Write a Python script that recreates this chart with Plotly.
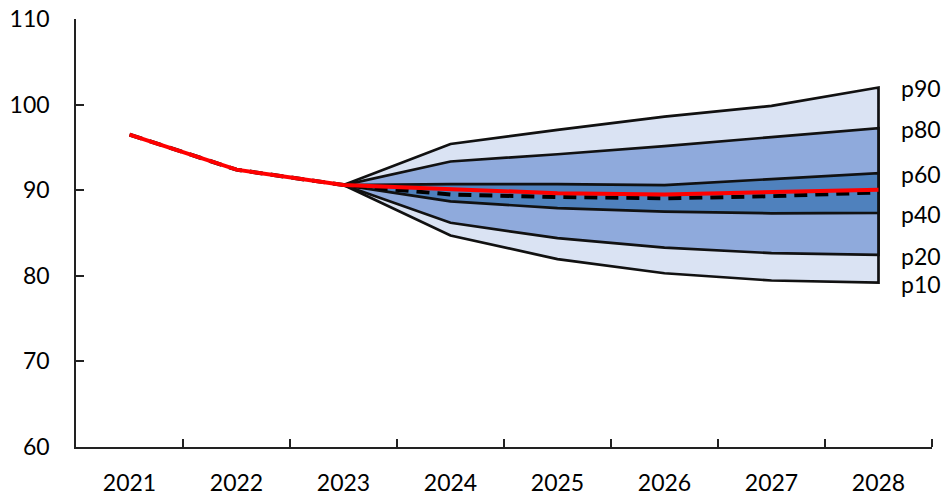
import plotly.graph_objects as go

# Annual path and fan-chart percentiles
years = [2021, 2022, 2023, 2024, 2025, 2026, 2027, 2028]
year_labels = ["2021", "2022", "2023", "2024", "2025", "2026", "2027", "2028"]

# Central paths over the whole period
median_path = [96.5, 92.4, 90.6, 90.1, 89.65, 89.5, 89.75, 90.05]
mean_path = [96.5, 92.4, 90.6, 89.5, 89.2, 89.05, 89.3, 89.75]

# Percentiles start from the last observed year (2023)
fan_years = [2023, 2024, 2025, 2026, 2027, 2028]
p10 = [90.6, 84.7, 81.95, 80.3, 79.45, 79.2]
p20 = [90.6, 86.2, 84.4, 83.3, 82.65, 82.45]
p40 = [90.6, 88.7, 87.9, 87.5, 87.3, 87.35]
p60 = [90.6, 90.7, 90.7, 90.6, 91.3, 92.0]
p80 = [90.6, 93.35, 94.2, 95.15, 96.2, 97.25]
p90 = [90.6, 95.4, 97.05, 98.6, 99.85, 102.0]

band_names = ["p90", "p80", "p60", "p40", "p20", "p10"]
band_values = [p90, p80, p60, p40, p20, p10]

FONT = "Lato"
OUTLINE = "#111111"

fig = go.Figure()


def add_band(upper, lower, color):
    xs = fan_years + fan_years[::-1]
    ys = upper + lower[::-1]
    fig.add_trace(go.Scatter(
        x=xs, y=ys, mode="lines", fill="toself", fillcolor=color,
        line=dict(color=OUTLINE, width=2.7), hoverinfo="skip", showlegend=False,
    ))


add_band(p90, p10, "#DAE3F3")
add_band(p80, p20, "#8FAADC")
add_band(p60, p40, "#4F81BD")

fig.add_trace(go.Scatter(
    x=years, y=mean_path, mode="lines",
    line=dict(color="#000000", width=4, dash="13px,8px"), showlegend=False,
))
fig.add_trace(go.Scatter(
    x=years, y=median_path, mode="lines",
    line=dict(color="#FF0000", width=4), showlegend=False,
))

# Percentile labels at the right end of the fan
for name, vals in zip(band_names, band_values):
    fig.add_annotation(
        x=fan_years[-1], y=vals[-1], text=name, showarrow=False,
        xanchor="left", yanchor="middle", xshift=20, yshift=-1,
        font=dict(family=FONT, size=23, color="#000000"),
    )

fig.update_layout(
    width=944, height=499,
    margin=dict(l=76, r=12, t=19, b=52),
    paper_bgcolor="white", plot_bgcolor="white",
    font=dict(family=FONT, size=23, color="#000000"),
    showlegend=False,
)

fig.update_xaxes(
    range=[2020.5, 2028.5], tickvals=years, ticktext=year_labels,
    ticks="", showgrid=False, zeroline=False, automargin=False,
    showline=True, linecolor="#222222", linewidth=1.5,
    ticklabelstandoff=15,
    minor=dict(tickvals=[y + 0.5 for y in years], ticks="inside",
               ticklen=8, tickcolor="#222222", tickwidth=1.5, showgrid=False),
)
fig.update_yaxes(
    range=[60, 110], tickvals=[60, 70, 80, 90, 100, 110],
    ticks="inside", ticklen=8, tickcolor="#222222", tickwidth=1.5,
    showgrid=False, zeroline=False, automargin=False,
    showline=True, linecolor="#222222", linewidth=1.5,
    ticklabelstandoff=20,
)

fig.write_html("out.html")
